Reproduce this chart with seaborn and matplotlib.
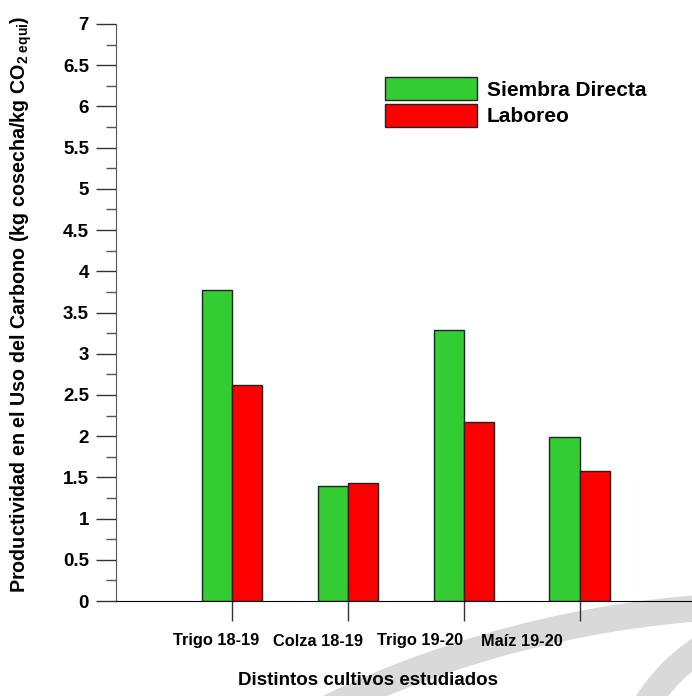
import matplotlib
matplotlib.use('Agg')
import matplotlib.pyplot as plt
from matplotlib.patches import Arc
from matplotlib.ticker import MultipleLocator, FuncFormatter
import seaborn as sns
import pandas as pd

# Data
CULTIVOS = ['Trigo 18-19', 'Colza 18-19', 'Trigo 19-20', 'Maíz 19-20']
SIEMBRA_DIRECTA = [3.77, 1.40, 3.29, 1.99]
LABOREO = [2.62, 1.43, 2.17, 1.58]
SISTEMAS = ['Siembra Directa', 'Laboreo']
COLORES = ['#33CC33', '#FF0000']


def build_df():
    """Long-form table for seaborn"""
    df = pd.DataFrame({
        'Cultivo': CULTIVOS * 2,
        'Valor': SIEMBRA_DIRECTA + LABOREO,
        'Sistema': [SISTEMAS[0]] * len(CULTIVOS) + [SISTEMAS[1]] * len(CULTIVOS),
    })
    return df


def watermark(fig):
    # light grey bands of the logo in the lower right corner (decoration only)
    bg = fig.add_axes([0, 0, 1, 1], zorder=-5)
    bg.set_xlim(0, 692)
    bg.set_ylim(0, 696)
    bg.axis('off')
    bg.add_patch(Arc((780, -954), 2090, 2090, theta1=75, theta2=125,
                     color='#d9d9d9', lw=19))
    bg.add_patch(Arc((800, -104), 362, 362, theta1=100, theta2=170,
                     color='#d9d9d9', lw=19))


def plotting(df):
    sns.set_style('white')
    plt.rcParams['font.family'] = ['Liberation Sans', 'DejaVu Sans']
    plt.rcParams['font.weight'] = 'bold'
    plt.rcParams['text.color'] = 'black'
    plt.rcParams['mathtext.fontset'] = 'custom'
    plt.rcParams['mathtext.rm'] = 'Liberation Sans:bold'
    plt.rcParams['mathtext.bf'] = 'Liberation Sans:bold'
    plt.rcParams['mathtext.it'] = 'Liberation Sans:bold'

    fig = plt.figure(figsize=(6.92, 6.96), dpi=100)
    watermark(fig)
    ax = fig.add_axes([116 / 692, 95 / 696, 576 / 692, 577 / 696])
    ax.patch.set_alpha(0)

    sns.barplot(data=df, x='Cultivo', y='Valor', hue='Sistema',
                palette=COLORES, width=0.52, edgecolor='#222222',
                linewidth=1, saturation=1, ax=ax)

    ax.set_xlim(-1, 3.97)
    ax.set_ylim(0, 7)
    ax.yaxis.set_major_locator(MultipleLocator(0.5))
    ax.yaxis.set_minor_locator(MultipleLocator(0.25))
    ax.yaxis.set_major_formatter(FuncFormatter(lambda v, p: f'{v:g}'))

    # category ticks without text; the names sit a bit to the left of each tick
    n = len(CULTIVOS)
    ax.set_xticks(range(n))
    ax.set_xticklabels([''] * n)
    ax.set_xticks([i * 0.88 - 0.14 for i in range(n)], minor=True)
    ax.set_xticklabels(CULTIVOS, minor=True)

    for side in ['top', 'right']:
        ax.spines[side].set_visible(False)
    ax.spines['left'].set_color('#555555')
    ax.spines['bottom'].set_color('black')
    ax.tick_params(axis='y', which='major', direction='out', length=14.4,
                   width=1, color='#333333', labelsize=13.5, pad=5,
                   labelcolor='black', left=True)
    ax.tick_params(axis='y', which='minor', direction='out', length=7,
                   width=1, color='#555555', left=True)
    ax.tick_params(axis='x', which='major', direction='out', length=14.4,
                   width=1, color='#333333', bottom=True)
    ax.tick_params(axis='x', which='minor', length=14.4, width=0,
                   labelsize=11.8, pad=9, labelcolor='black', bottom=True)

    ax.set_xlabel('Distintos cultivos estudiados', fontsize=13.5,
                  fontweight='bold', color='black')
    ax.xaxis.set_label_coords(0.4375, -0.123)
    ax.set_ylabel(r'Productividad en el Uso del Carbono (kg cosecha/kg CO$_{\mathrm{2\ equi}}$)',
                  fontsize=14.2, fontweight='bold', color='black')
    ax.yaxis.set_label_coords(-0.143, 0.515)

    handles, labels = ax.get_legend_handles_labels()
    ax.legend(handles, labels, loc='upper left',
              bbox_to_anchor=(0.467, 0.908), frameon=False,
              handlelength=4.4, handleheight=1.35, handletextpad=0.5,
              labelspacing=0.15, borderpad=0, borderaxespad=0,
              prop={'size': 15, 'weight': 'bold'})

    fig.savefig('out.png', dpi=100)


def main():
    df = build_df()
    plotting(df)


if __name__ == "__main__":
    main()
